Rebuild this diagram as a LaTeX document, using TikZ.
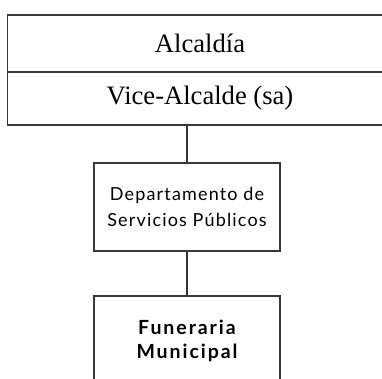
\documentclass[tikz,border=0pt]{standalone}
\usepackage{fontspec}
\setmainfont{Liberation Serif}
\newfontfamily\gillfont[LetterSpace=6.5]{Lato}
\newfontfamily\gillbold[LetterSpace=10]{Lato Bold}

\begin{document}
\begin{tikzpicture}[yscale=-1, x=1pt, y=1pt,
    box/.style={draw=black!78, line width=1.5pt, rectangle, align=center, inner sep=0pt},
    topbox/.style={box, minimum width=385pt, font=\fontsize{26.6}{30}\selectfont},
    unitbox/.style={box, minimum width=186pt, font=\gillfont\fontsize{18}{26}\selectfont},
    link/.style={draw=black!80, line width=1.5pt}]
    \useasboundingbox (0,0) rectangle (382,378);

    % Define the positions of the boxes
    \coordinate (alcaldiaPos) at (200, 43.5);
    \coordinate (vicePos) at (200, 98.5);
    \coordinate (deptoPos) at (187, 207);
    \coordinate (funerariaPos) at (187, 341);

    % Draw the boxes
    \node[topbox, minimum height=57pt] (alcaldia) at (alcaldiaPos) {Alcaldía};
    \node[topbox, minimum height=53pt] (vice) at (vicePos) {Vice-Alcalde (sa)};
    \node[unitbox, minimum height=88pt] (depto) at (deptoPos) {Departamento de\\Servicios Públicos};
    \node[unitbox, minimum height=90pt, font=\gillbold\fontsize{19.5}{24}\selectfont] (funeraria) at (funerariaPos) {Funeraria\\Municipal};

    % Draw the lines
    \draw[link] (depto.north) -- (depto.north |- vice.south);
    \draw[link] (depto.south) -- (funeraria.north);
\end{tikzpicture}
\end{document}
